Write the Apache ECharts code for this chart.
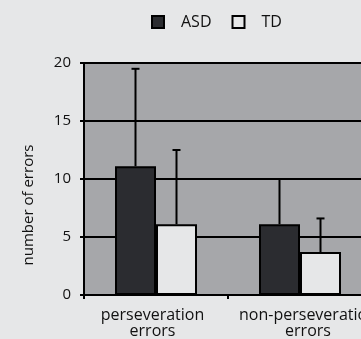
<!DOCTYPE html>
<html><head><meta charset="utf-8">
<script src="https://cdn.jsdelivr.net/npm/echarts@6/dist/echarts.min.js"></script>
<style>html,body{margin:0;padding:0;background:#e6e7e8;}#c{width:361px;height:339px;}</style>
</head><body><div id="c"></div>
<script>
const categories = ['perseveration\nerrors', 'non-perseveration\nerrors'];
const asdValues = [11.1, 6.1];
const tdValues = [6.1, 3.7];
const asdErrTop = [19.5, 10.0];
const tdErrTop = [12.5, 6.6];
const yTicks = [0, 5, 10, 15, 20];

const FONT = 'Open Sans';
const chart = echarts.init(document.getElementById('c'));
function errSeries(name, tops, vals, offset) {
  return {
    type: 'custom', name: name + ' err', silent: true, z: 5, clip: false,
    data: tops.map((t, i) => [i, vals[i], t]),
    renderItem: function (params, api) {
      const base = api.coord([api.value(0), api.value(1)]);
      const top = api.coord([api.value(0), api.value(2)]);
      const x = base[0] + offset;
      const style = { stroke: '#000', lineWidth: 2 };
      return { type: 'group', children: [
        { type: 'line', shape: { x1: x, y1: base[1], x2: x, y2: top[1] }, style },
        { type: 'line', shape: { x1: x - 4, y1: top[1], x2: x + 4, y2: top[1] }, style }
      ]};
    }
  };
}
const labelStyle = { fontFamily: FONT, fontSize: 16, color: '#111', lineHeight: 16.5 };
chart.setOption({
  backgroundColor: '#e6e7e8',
  animation: false,
  textStyle: { fontFamily: FONT },
  legend: {
    top: 14, left: 151, padding: 0, itemWidth: 12, itemHeight: 12, itemGap: 20,
    textStyle: { fontFamily: FONT, fontSize: 16, color: '#111', padding: [0, 0, 0, 12] },
    data: [
      { name: 'ASD', icon: 'rect', itemStyle: { color: '#2b2c30', borderColor: '#000', borderWidth: 2 } },
      { name: 'TD', icon: 'rect', itemStyle: { color: '#e6e7e8', borderColor: '#000', borderWidth: 2 } }
    ]
  },
  grid: { left: 84, top: 63, width: 288, bottom: 44, show: true, backgroundColor: '#a6a7aa', borderWidth: 0,
    outerBoundsMode: 'none', containLabel: false },
  xAxis: {
    type: 'category', data: categories,
    axisLine: { lineStyle: { color: '#000', width: 2 } },
    axisTick: { show: true, length: 4, interval: 0, lineStyle: { color: '#000', width: 2 } },
    axisLabel: { fontFamily: FONT, fontSize: 16, color: '#111', lineHeight: 16.5, margin: 12,
      interval: 0, hideOverlap: false, showMaxLabel: true, showMinLabel: true,
      formatter: (v, i) => v.split('\n').map(s => '{' + (i === 0 ? 'a' : 'b') + '|' + s + '}').join('\n'),
      rich: {
        a: Object.assign({ padding: [0, 7, 0, 0] }, labelStyle),
        b: Object.assign({ padding: [0, 0, 0, 16] }, labelStyle)
      }
    }
  },
  yAxis: {
    type: 'value', min: 0, max: 20, interval: 5,
    name: 'number of errors', nameLocation: 'middle', nameGap: 48,
    nameTextStyle: { fontFamily: FONT, fontSize: 15, color: '#111', padding: [0, 52, 0, 0] },
    axisLine: { show: true, lineStyle: { color: '#000', width: 2 } },
    axisTick: { show: true, length: 4, lineStyle: { color: '#000', width: 2 } },
    axisLabel: { fontFamily: FONT, fontSize: 15, color: '#111', margin: 13,
      formatter: v => yTicks.includes(v) ? String(v) : '' },
    splitLine: { show: true, lineStyle: { color: '#000', width: 2 } }
  },
  series: [
    { name: 'ASD', type: 'bar', data: asdValues, barWidth: 41, barGap: '0%',
      itemStyle: { color: '#2b2c30', borderColor: '#000', borderWidth: 2 } },
    { name: 'TD', type: 'bar', data: tdValues, barWidth: 41, barGap: '0%',
      itemStyle: { color: '#e6e7e8', borderColor: '#000', borderWidth: 2 } },
    errSeries('ASD', asdErrTop, asdValues, -20.5),
    errSeries('TD', tdErrTop, tdValues, 20.5)
  ]
});
</script></body></html>
